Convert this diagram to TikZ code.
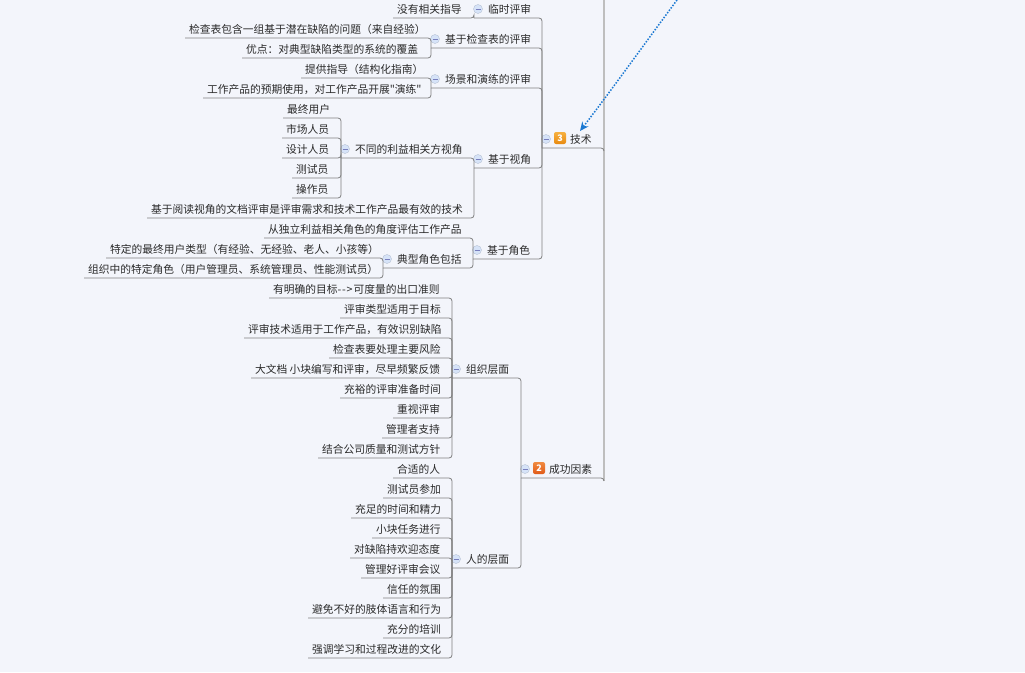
\documentclass[tikz,border=0pt]{standalone}
\usepackage{fontspec}
\setmainfont{Noto Sans CJK SC}
\setmonofont{Noto Sans CJK SC}
\usetikzlibrary{arrows.meta}
\definecolor{bgc}{HTML}{F3F5FB}
\definecolor{linec}{HTML}{7F7F7F}
\definecolor{stemc}{HTML}{BEBEBE}
\definecolor{textc}{HTML}{2A2A2A}
\definecolor{foldc}{HTML}{D6E3F8}
\definecolor{arrowc}{HTML}{1A78D2}
\definecolor{badgeA}{HTML}{F6B040}
\definecolor{badgeB}{HTML}{E88A10}
\definecolor{badgeC}{HTML}{F08A40}
\definecolor{badgeD}{HTML}{E05A18}
\tikzset{
  topic/.style={anchor=south west,inner xsep=4pt,inner ysep=0pt,outer sep=0pt,text height=10pt,text depth=5pt,font=\ttfamily\fontsize{10.75pt}{12pt}\selectfont,text=textc},
  branch/.style={topic,inner xsep=14pt},
  conn/.style={draw=linec,line width=.8pt,rounded corners=3pt},
  mainstem/.style={draw=stemc,line width=1.8pt},
  fold/.style={circle,draw=foldc!85!black,fill=foldc,line width=.4pt,minimum size=9pt,inner sep=0pt,outer sep=0pt,
    path picture={\draw[draw=black!30!foldc!80!blue,line width=.6pt] ([xshift=-2.5pt]path picture bounding box.center) -- ([xshift=2.5pt]path picture bounding box.center);}},
  badge/.style={rounded corners=2pt,minimum size=12pt,inner sep=0pt,text=white,font=\fontsize{9pt}{10pt}\selectfont\bfseries},
  linkarrow/.style={draw=arrowc,line width=1.5pt,dash pattern=on 1.5pt off 1.5pt,-{Stealth[length=9pt,width=8pt,inset=3pt,line cap=butt]}}
}
\newcommand{\leafnode}[5]{\node[topic] (#1) at (#3,#4) {#5};
  \draw[conn] (#1.south west) -- (#1.south west -| #2.south west) -- (#2.south west);}
\newcommand{\branchnode}[5]{\node[branch] (#1) at (#3,#4) {#5};
  \node[fold] (#1f) at ([shift={(4,-9)}]#1.south west) {};
  \draw[conn] (#1.south west) -- (#1.south west -| #2.south west) -- (#2.south west);}
\begin{document}
\begin{tikzpicture}[x=1pt,y=-1pt]
\path[use as bounding box,fill=bgc] (0,0) rectangle (1025,672);
\coordinate (root) at (604,0);
\coordinate (linkstart) at (677,0);
\coordinate (linkend) at (580,131);
\node[branch] (jishu) at (542,148) {\hspace*{14pt}技术};
\node[fold] (jishuf) at ([shift={(4,-9)}]jishu.south west) {};
\node[badge,shade,top color=badgeA,bottom color=badgeB] (b3) at (560,138) {3};
\node[branch] (chenggong) at (521,478) {\hspace*{14pt}成功因素};
\node[fold] (chenggongf) at ([shift={(4,-9)}]chenggong.south west) {};
\node[badge,shade,top color=badgeC,bottom color=badgeD] (b2) at (539,468) {2};
\draw[mainstem] (root) -- ([yshift=-3pt]root |- chenggong.south west);
\draw[conn] (jishu.south west) -- (jishu.south west -| root) -- ([yshift=-3pt]jishu.south west -| root);
\draw[conn] (chenggong.south west) -- (chenggong.south west -| root) -- ([yshift=-3pt]chenggong.south west -| root);
\branchnode{linshi}{jishu}{474}{18}{临时评审}
\leafnode{meiyou}{linshi}{393}{18}{没有相关指导}
\branchnode{jiancha}{jishu}{431}{48}{基于检查表的评审}
\leafnode{jc1}{jiancha}{185}{38}{检查表包含一组基于潜在缺陷的问题（来自经验）}
\leafnode{jc2}{jiancha}{242}{58}{优点：对典型缺陷类型的系统的覆盖}
\branchnode{changjing}{jishu}{431}{88}{场景和演练的评审}
\leafnode{cj1}{changjing}{301}{78}{提供指导（结构化指南）}
\leafnode{cj2}{changjing}{203}{98}{工作产品的预期使用，对工作产品开展"演练"}
\branchnode{shijiao}{jishu}{474}{168}{基于视角}
\branchnode{butong}{shijiao}{341}{158}{不同的利益相关方视角}
\leafnode{sj1}{butong}{283}{118}{最终用户}
\leafnode{sj2}{butong}{282}{138}{市场人员}
\leafnode{sj3}{butong}{282}{158}{设计人员}
\leafnode{sj4}{butong}{292}{178}{测试员}
\leafnode{sj5}{butong}{292}{198}{操作员}
\leafnode{yuedu}{shijiao}{147}{218}{基于阅读视角的文档评审是评审需求和技术工作产品最有效的技术}
\branchnode{juese}{jishu}{473}{259}{基于角色}
\leafnode{duli}{juese}{264}{238}{从独立利益相关角色的角度评估工作产品}
\branchnode{dianxing}{juese}{383}{268}{典型角色包括}
\leafnode{js1}{dianxing}{106}{258}{特定的最终用户类型（有经验、无经验、老人、小孩等）}
\leafnode{js2}{dianxing}{84}{278}{组织中的特定角色（用户管理员、系统管理员、性能测试员）}
\branchnode{zuzhi}{chenggong}{452}{378}{组织层面}
\leafnode{zz1}{zuzhi}{269}{298}{有明确的目标-\kern.8pt-\kern.8pt>\kern1.2pt可度量的出口准则}
\leafnode{zz2}{zuzhi}{340}{318}{评审类型适用于目标}
\leafnode{zz3}{zuzhi}{244}{338}{评审技术适用于工作产品，有效识别缺陷}
\leafnode{zz4}{zuzhi}{329}{358}{检查表要处理主要风险}
\leafnode{zz5}{zuzhi}{251}{378}{大文档 小块编写和评审，尽早频繁反馈}
\leafnode{zz6}{zuzhi}{340}{398}{充裕的评审准备时间}
\leafnode{zz7}{zuzhi}{393}{418}{重视评审}
\leafnode{zz8}{zuzhi}{382}{438}{管理者支持}
\leafnode{zz9}{zuzhi}{318}{458}{结合公司质量和测试方针}
\branchnode{rende}{chenggong}{452}{568}{人的层面}
\leafnode{rd1}{rende}{393}{478}{合适的人}
\leafnode{rd2}{rende}{383}{498}{测试员参加}
\leafnode{rd3}{rende}{351}{518}{充足的时间和精力}
\leafnode{rd4}{rende}{372}{538}{小块任务进行}
\leafnode{rd5}{rende}{350}{558}{对缺陷持欢迎态度}
\leafnode{rd6}{rende}{361}{578}{管理好评审会议}
\leafnode{rd7}{rende}{383}{598}{信任的氛围}
\leafnode{rd8}{rende}{308}{618}{避免不好的肢体语言和行为}
\leafnode{rd9}{rende}{383}{638}{充分的培训}
\leafnode{rd10}{rende}{308}{658}{强调学习和过程改进的文化}
\draw[linkarrow] (linkstart) .. controls (640,50) and (610,92) .. (linkend);
\end{tikzpicture}
\end{document}
